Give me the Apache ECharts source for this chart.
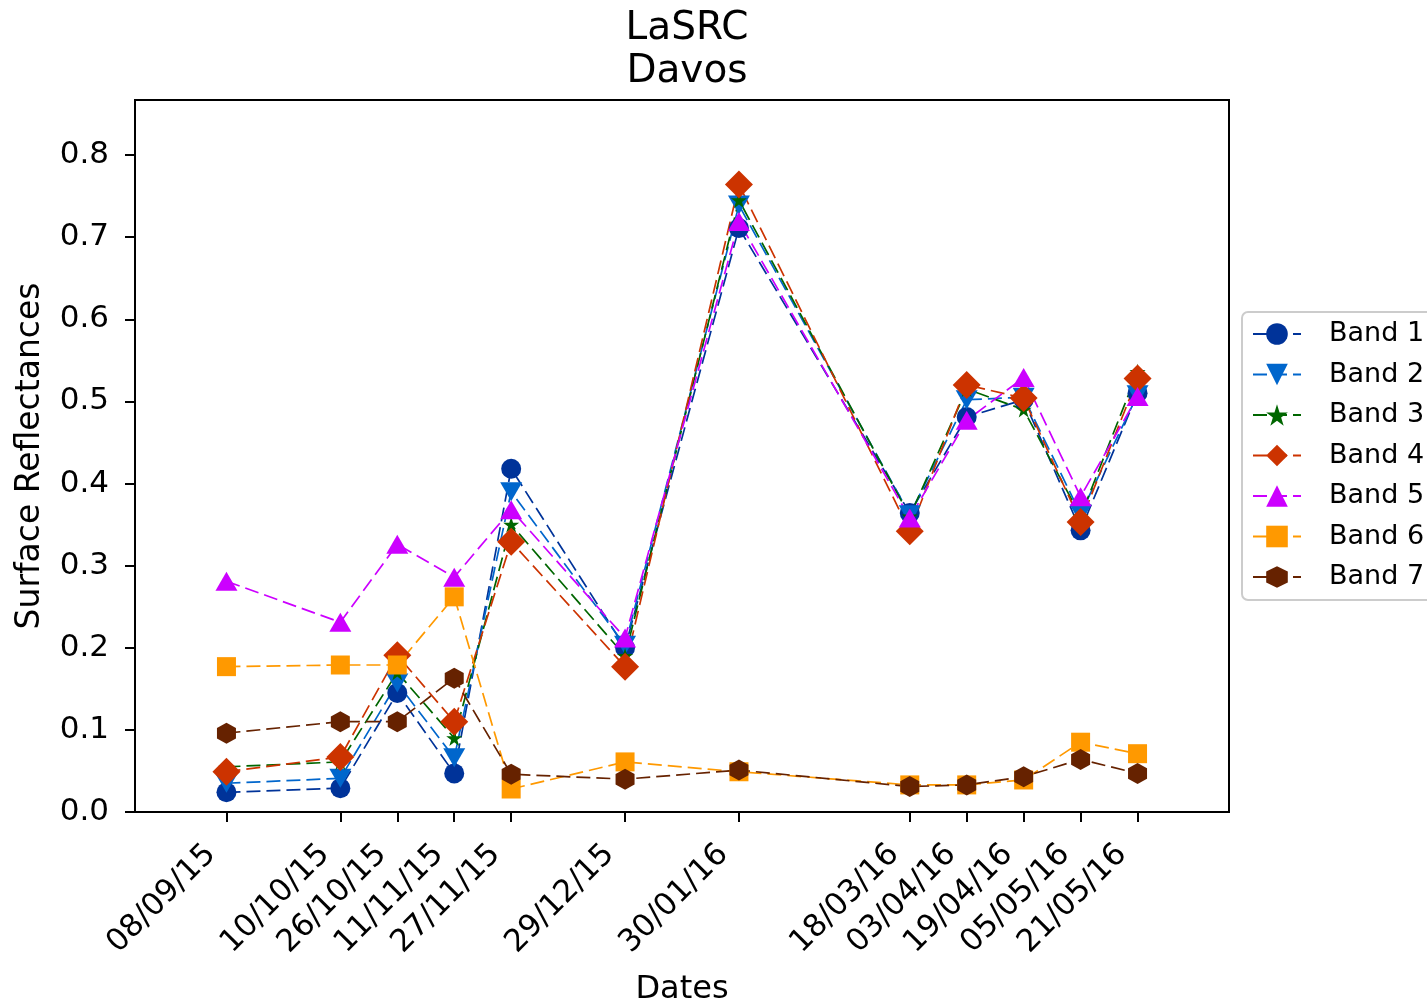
<!DOCTYPE html>
<html>
<head>
<meta charset="utf-8">
<script src="https://cdn.jsdelivr.net/npm/echarts@6/dist/echarts.min.js"></script>
<style>
html, body { margin: 0; padding: 0; background: #fff; }
#chart { width: 1427px; height: 1008px; }
</style>
</head>
<body>
<div id="chart"></div>
<script>
// dates of the acquisitions (dd/mm/yy)
var dates = ['08/09/15', '10/10/15', '26/10/15', '11/11/15', '27/11/15', '29/12/15',
    '30/01/16', '18/03/16', '03/04/16', '19/04/16', '05/05/16', '21/05/16'];

var band1 = [0.024, 0.029, 0.145, 0.047, 0.418, 0.200, 0.711, 0.364, 0.481, 0.502, 0.343, 0.510];
var band2 = [0.035, 0.041, 0.157, 0.066, 0.390, 0.203, 0.739, 0.362, 0.502, 0.505, 0.363, 0.508];
var band3 = [0.055, 0.061, 0.170, 0.090, 0.350, 0.190, 0.745, 0.360, 0.515, 0.490, 0.360, 0.536];
var band4 = [0.049, 0.067, 0.191, 0.110, 0.329, 0.177, 0.764, 0.342, 0.520, 0.504, 0.353, 0.528];
var band5 = [0.281, 0.231, 0.326, 0.286, 0.368, 0.212, 0.719, 0.358, 0.477, 0.529, 0.384, 0.506];
var band6 = [0.177, 0.179, 0.179, 0.262, 0.028, 0.061, 0.049, 0.033, 0.033, 0.039, 0.085, 0.071];
var band7 = [0.096, 0.110, 0.110, 0.163, 0.046, 0.040, 0.051, 0.031, 0.033, 0.043, 0.064, 0.047];

var yTicks = [0, 0.1, 0.2, 0.3, 0.4, 0.5, 0.6, 0.7, 0.8];

var DAY = 86400000;
function toTime(s) {
    var p = s.split('/');
    return Date.UTC(2000 + (+p[2]), +p[1] - 1, +p[0]);
}
// x positions = days since the first acquisition
var t0 = toTime(dates[0]);
var days = dates.map(function (s) { return Math.round((toTime(s) - t0) / DAY); });
var labelOf = {};
days.forEach(function (d, i) { labelOf[d] = dates[i]; });

var font = 'DejaVu Sans';

// star, hexagon and down-triangle markers
var star = 'path://M50,0 L61.2,34.5 L97.6,34.5 L68.2,55.9 L79.4,90.5 L50,69.1 L20.6,90.5 L31.8,55.9 L2.4,34.5 L38.8,34.5 Z';
var hexagon = 'path://M50,0 L93.3,25 L93.3,75 L50,100 L6.7,75 L6.7,25 Z';
var triDown = 'path://M0,0 L100,0 L50,87 Z';

var bands = [
    { name: 'Band 1', data: band1, color: '#003399', symbol: 'circle', size: 20 },
    { name: 'Band 2', data: band2, color: '#0066cc', symbol: triDown, size: [22, 19] },
    { name: 'Band 3', data: band3, color: '#006600', symbol: star, size: 16 },
    { name: 'Band 4', data: band4, color: '#cc3300', symbol: 'diamond', size: 28 },
    { name: 'Band 5', data: band5, color: '#cc00ff', symbol: 'triangle', size: [22, 19] },
    { name: 'Band 6', data: band6, color: '#ff9900', symbol: 'rect', size: 19 },
    { name: 'Band 7', data: band7, color: '#662200', symbol: hexagon, size: [19, 21] }
];

var series = bands.map(function (b) {
    return {
        name: b.name,
        type: 'line',
        data: b.data.map(function (v, i) { return [days[i], v]; }),
        symbol: b.symbol,
        symbolSize: b.size,
        showAllSymbol: true,
        color: b.color,
        itemStyle: { color: b.color, opacity: 1 },
        lineStyle: { color: b.color, width: 1.7, type: [14, 6] },
        emphasis: { disabled: true },
        animation: false
    };
});

var chart = echarts.init(document.getElementById('chart'));
chart.setOption({
    backgroundColor: '#fff',
    animation: false,
    title: {
        text: 'LaSRC\nDavos',
        left: 682,
        top: 2,
        textAlign: 'center',
        textStyle: { fontFamily: font, fontSize: 39, fontWeight: 'normal', color: '#000', lineHeight: 43 }
    },
    legend: {
        orient: 'vertical',
        left: 1242,
        top: 312,
        padding: [7, 10, 8, 10],
        itemGap: 10.5,
        itemWidth: 48,
        itemHeight: 27,
        borderColor: '#cccccc',
        borderWidth: 2,
        borderRadius: 6,
        textStyle: { fontFamily: font, fontSize: 27, color: '#000', lineHeight: 30, padding: [0, 0, 0, 23] },
        data: bands.map(function (b) { return b.name; })
    },
    grid: {
        left: 135,
        right: 198,
        top: 100,
        bottom: 196,
        outerBoundsMode: 'none',
        show: true,
        borderColor: '#000',
        borderWidth: 2,
        backgroundColor: 'transparent'
    },
    xAxis: {
        type: 'value',
        min: -25.7,
        max: days[days.length - 1] + 25.7,
        name: 'Dates',
        nameLocation: 'middle',
        nameGap: 162,
        nameTextStyle: { fontFamily: font, fontSize: 32, color: '#000' },
        axisLine: { show: true, onZero: false, lineStyle: { color: '#000', width: 2 } },
        axisTick: { show: true, inside: false, length: 10, lineStyle: { color: '#000', width: 2 }, customValues: days },
        axisLabel: {
            customValues: days,
            rotate: 45,
            margin: 22,
            padding: [0, 22, 0, 0],
            fontFamily: font,
            fontSize: 31,
            color: '#000',
            formatter: function (v) { return labelOf[Math.round(v)] || ''; }
        },
        splitLine: { show: false }
    },
    yAxis: {
        type: 'value',
        min: 0,
        max: 0.867,
        name: 'Surface Reflectances',
        nameLocation: 'middle',
        nameGap: 88,
        nameTextStyle: { fontFamily: font, fontSize: 33, color: '#000' },
        axisLine: { show: true, onZero: false, lineStyle: { color: '#000', width: 2 } },
        axisTick: { show: true, inside: false, length: 10, lineStyle: { color: '#000', width: 2 }, customValues: yTicks },
        axisLabel: {
            customValues: yTicks,
            margin: 26,
            fontFamily: font,
            fontSize: 31,
            color: '#000',
            formatter: function (v) { return v.toFixed(1); }
        },
        splitLine: { show: false }
    },
    series: series
});
</script>
</body>
</html>
